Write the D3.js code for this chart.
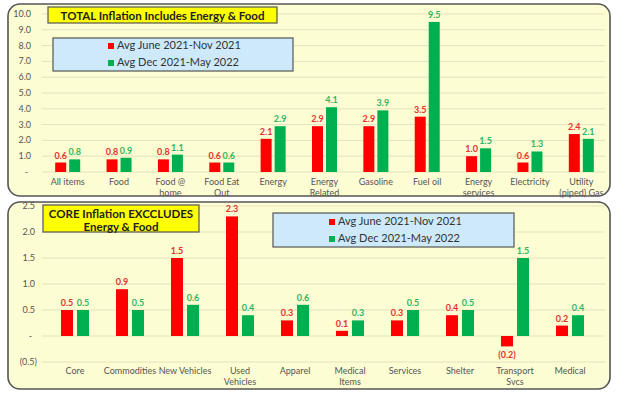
<!DOCTYPE html>
<html><head>
<meta charset="utf-8">
<script src="https://d3js.org/d3.v7.min.js"></script>
<style>
  body { margin: 0; background: #fff; }
  svg { font-family: Lato, "Open Sans", sans-serif; }
  text.tick { fill: #555; font-size: 9px; }
  text.cat { fill: #555; font-size: 9px; text-anchor: middle; }
  text.val { font-size: 9px; font-weight: bold; text-anchor: middle; }
</style>
</head>
<body>
<svg id="chart" width="620" height="396"></svg>
<script>

// ---- data ----
const seriesNames = ["Avg June 2021-Nov 2021", "Avg Dec 2021-May 2022"];

const totalCats = [["All items"], ["Food"], ["Food @", "home"], ["Food Eat", "Out"], ["Energy"],
  ["Energy", "Related"], ["Gasoline"], ["Fuel oil"], ["Energy", "services"], ["Electricity"], ["Utility", "(piped) Gas"]];
const totalFirst = [0.6, 0.8, 0.8, 0.6, 2.1, 2.9, 2.9, 3.5, 1.0, 0.6, 2.4];
const totalSecond = [0.8, 0.9, 1.1, 0.6, 2.9, 4.1, 3.9, 9.5, 1.5, 1.3, 2.1];
const totalTicks = [0, 1, 2, 3, 4, 5, 6, 7, 8, 9, 10];

const coreCats = [["Core"], ["Commodities"], ["New Vehicles"], ["Used", "Vehicles"], ["Apparel"],
  ["Medical", "Items"], ["Services"], ["Shelter"], ["Transport", "Svcs"], ["Medical"]];
const coreFirst = [0.5, 0.9, 1.5, 2.3, 0.3, 0.1, 0.3, 0.4, -0.2, 0.2];
const coreSecond = [0.5, 0.5, 0.6, 0.4, 0.6, 0.3, 0.5, 0.5, 1.5, 0.4];
const coreTicks = [-0.5, 0, 0.5, 1.0, 1.5, 2.0, 2.5];

const barColors = ["#ff0000", "#00b050"];
const labelColors = ["#e8302c", "#2fb563"];

const svg = d3.select("#chart");

function panel(opt) {
  const g = svg.append("g");

  g.append("rect")
    .attr("x", 8).attr("y", opt.top).attr("width", 602).attr("height", opt.bottom - opt.top)
    .attr("rx", 12).attr("fill", "#fdfdd3").attr("stroke", "#555").attr("stroke-width", 1.6);

  const y = d3.scaleLinear().domain(opt.domain).range([opt.y0, opt.y1]);
  const x = d3.scaleBand().domain(d3.range(opt.cats.length)).range(opt.xRange);

  // grid
  g.selectAll("line.grid").data(opt.ticks).join("line")
    .attr("x1", 42).attr("x2", 605)
    .attr("y1", d => y(d)).attr("y2", d => y(d))
    .attr("stroke", "#e3e2bd").attr("stroke-width", 1);

  // tick labels, accounting style
  g.selectAll("text.tick").data(opt.ticks).join("text")
    .attr("class", "tick")
    .attr("text-anchor", "end")
    .attr("x", d => d < 0 ? opt.tickX + 2 : (d === 0 ? opt.tickX - 3 : opt.tickX))
    .attr("y", d => y(d) + 3)
    .text(d => d === 0 ? "-" : (d < 0 ? "(" + d3.format(".1f")(-d) + ")" : d3.format(".1f")(d)));

  // bars
  const series = [opt.first, opt.second];
  series.forEach((vals, s) => {
    const off = s === 0 ? -opt.barW - opt.gap / 2 : opt.gap / 2;
    g.selectAll("rect.bar" + s).data(vals).join("rect")
      .attr("class", "bar" + s)
      .attr("x", (d, i) => x(i) + x.bandwidth() / 2 + off)
      .attr("width", opt.barW)
      .attr("y", d => y(Math.max(0, d)))
      .attr("height", d => Math.abs(y(d) - y(0)))
      .attr("fill", barColors[s]);

    g.selectAll("text.val" + s).data(vals).join("text")
      .attr("class", "val val" + s)
      .attr("fill", labelColors[s])
      .attr("x", (d, i) => x(i) + x.bandwidth() / 2 + off + opt.barW / 2)
      .attr("y", d => d < 0 ? y(d) + 12 : y(d) - 4)
      .text(d => d < 0 ? "(" + d3.format(".1f")(-d) + ")" : d3.format(".1f")(d));
  });

  // category labels
  g.selectAll("text.cat").data(opt.cats).join("text")
    .attr("class", "cat")
    .attr("x", (d, i) => x(i) + x.bandwidth() / 2)
    .attr("y", opt.catY)
    .selectAll("tspan").data(d => d).join("tspan")
    .attr("x", function () { return d3.select(this.parentNode).attr("x"); })
    .attr("dy", (d, i) => i === 0 ? 0 : 10.5)
    .text(d => d);

  // title box
  const t = opt.title;
  g.append("rect").attr("x", t.x).attr("y", t.y).attr("width", t.w).attr("height", t.h)
    .attr("fill", "#ffff00").attr("stroke", "#555").attr("stroke-width", 1.2);
  g.append("text").attr("x", t.x + t.w / 2).attr("y", t.y + 12.5)
    .attr("text-anchor", "middle").attr("font-size", "11.5px").attr("font-weight", "bold").attr("fill", "#222")
    .selectAll("tspan").data(t.lines).join("tspan")
    .attr("x", t.x + t.w / 2).attr("dy", (d, i) => i === 0 ? 0 : 13)
    .text(d => d);

  // legend box
  const l = opt.legend;
  g.append("rect").attr("x", l.x).attr("y", l.y).attr("width", l.w).attr("height", l.h)
    .attr("fill", "#cde9fa").attr("stroke", "#555").attr("stroke-width", 1.2);
  seriesNames.forEach((name, s) => {
    g.append("rect").attr("x", l.kx).attr("y", l.y + l.rows[s] - 6)
      .attr("width", 6).attr("height", 6).attr("fill", barColors[s]);
    g.append("text").attr("x", l.kx + 9).attr("y", l.y + l.rows[s])
      .attr("font-size", "11px").attr("fill", "#333").text(name);
  });
}

panel({
  top: 4, bottom: 196,
  domain: [0, 10], y0: 172, y1: 14, ticks: totalTicks, tickX: 31,
  cats: totalCats, first: totalFirst, second: totalSecond,
  xRange: [42, 607], barW: 11, gap: 3, catY: 185,
  title: { x: 48, y: 7, w: 229, h: 16, lines: ["TOTAL Inflation Includes Energy & Food"] },
  legend: { x: 53, y: 38, w: 240, h: 33, kx: 108, rows: [11, 28] }
});

panel({
  top: 202, bottom: 389,
  domain: [-0.5, 2.5], y0: 362, y1: 206, ticks: coreTicks, tickX: 35,
  cats: coreCats, first: coreFirst, second: coreSecond,
  xRange: [47.5, 597.5], barW: 12, gap: 4, catY: 374,
  title: { x: 43, y: 205, w: 156, h: 27, lines: ["CORE Inflation EXCCLUDES", "Energy & Food"] },
  legend: { x: 273, y: 213, w: 241, h: 34, kx: 329, rows: [12, 29] }
});

</script>
</body>
</html>
